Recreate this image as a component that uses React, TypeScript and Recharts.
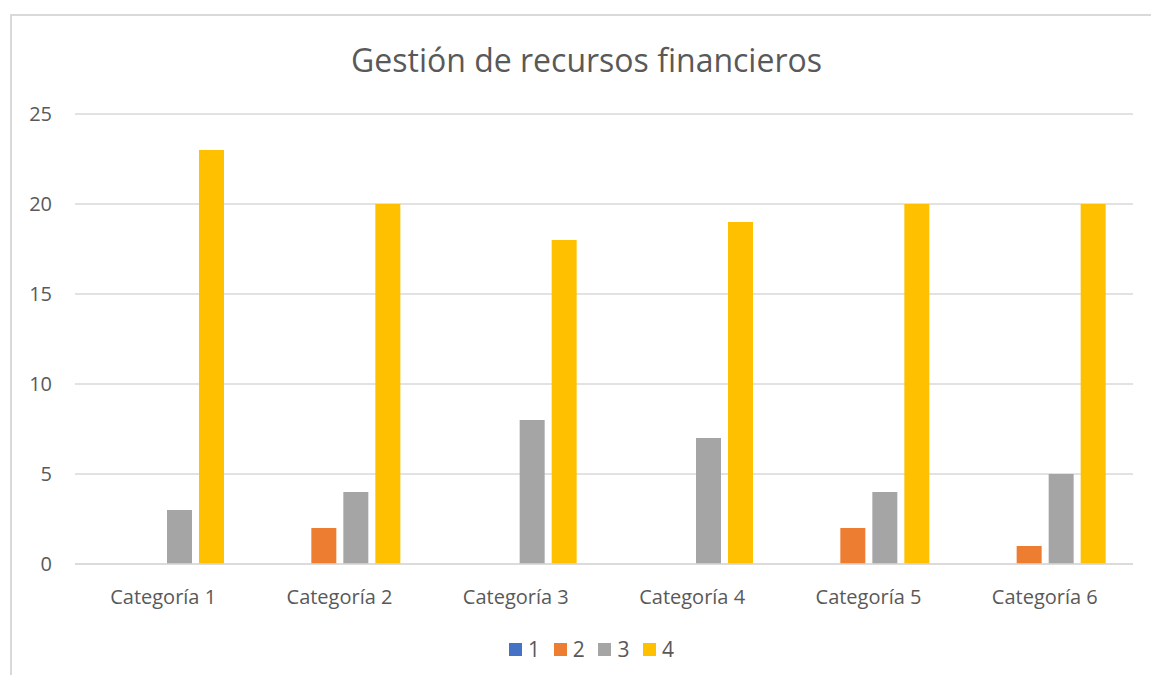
import React from 'react'
import { BarChart, Bar, XAxis, YAxis, CartesianGrid } from 'recharts'

const categories = ['Categoría 1', 'Categoría 2', 'Categoría 3', 'Categoría 4', 'Categoría 5', 'Categoría 6']
const serie1 = [0, 0, 0, 0, 0, 0]
const serie2 = [0, 2, 0, 0, 2, 1]
const serie3 = [3, 4, 8, 7, 4, 5]
const serie4 = [23, 20, 18, 19, 20, 20]
const yTicks = [0, 5, 10, 15, 20, 25]

const series = [
  { key: 's1', name: '1', color: '#4472c4' },
  { key: 's2', name: '2', color: '#ed7d31' },
  { key: 's3', name: '3', color: '#a5a5a5' },
  { key: 's4', name: '4', color: '#ffc000' },
]

const data = categories.map((c, i) => ({ name: c, s1: serie1[i], s2: serie2[i], s3: serie3[i], s4: serie4[i] }))

const FONT = '"Open Sans", sans-serif'
const TEXT = '#595959'

function YTick({ x, y, payload }: any) {
  return (
    <text x={x} y={y} dy={7} textAnchor="end" fill={TEXT} fontSize={20} fontFamily={FONT}>
      {payload.value}
    </text>
  )
}

export default function App() {
  return (
    <div style={{ position: 'absolute', left: 0, top: 0, width: 1151, height: 675, background: '#fff', overflow: 'hidden', fontFamily: FONT }}>
      <div style={{ position: 'absolute', left: 10, top: 14, width: 1200, height: 700, border: '2px solid #d9d9d9' }} />
      <div style={{ position: 'absolute', left: 0, width: 1173, top: 36, textAlign: 'center', fontSize: 32, color: TEXT, lineHeight: '48px' }}>
        Gestión de recursos financieros
      </div>
      <div style={{ position: 'absolute', left: 0, top: 0 }}>
        <BarChart width={1151} height={675} data={data}
          margin={{ top: 114, right: 18, left: 0, bottom: 81 }}
          barSize={25} barGap={7}>
          <CartesianGrid vertical={false} stroke="#d9d9d9" strokeWidth={1.5} />
          <XAxis dataKey="name" axisLine={{ stroke: '#d9d9d9', strokeWidth: 1.5 }} tickLine={false} tickSize={0} tickMargin={26}
            tick={{ fill: TEXT, fontSize: 20, fontFamily: FONT }} interval={0} />
          <YAxis width={75} domain={[0, 25]} ticks={yTicks} axisLine={false} tickLine={false} tickSize={0} tickMargin={23}
            tick={<YTick />} />
          {series.map(s => (
            <Bar key={s.key} dataKey={s.key} name={s.name} fill={s.color} isAnimationActive={false} />
          ))}
        </BarChart>
      </div>
      <div style={{ position: 'absolute', top: 636, left: 509, display: 'flex', fontSize: 21, color: TEXT, lineHeight: '26px' }}>
        {series.map(s => (
          <div key={s.key} style={{ display: 'flex', alignItems: 'center', width: 44.7 }}>
            <span style={{ display: 'inline-block', width: 13, height: 13, background: s.color, marginRight: 6 }} />
            <span>{s.name}</span>
          </div>
        ))}
      </div>
    </div>
  )
}
